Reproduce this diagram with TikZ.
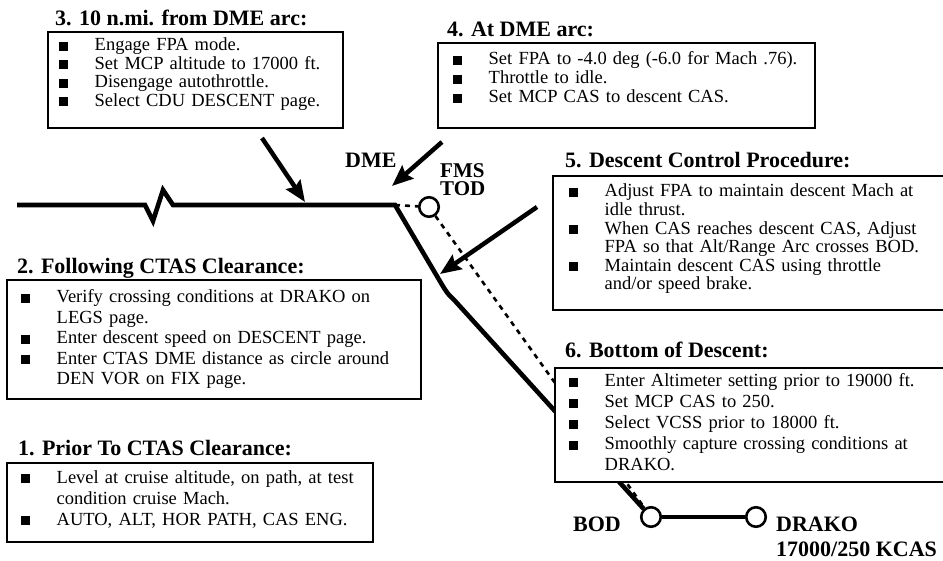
\documentclass[tikz,border=0pt]{standalone}
\usepackage{fontspec}
\setmainfont{Liberation Serif}
\usetikzlibrary{arrows.meta}

% one checklist entry: square bullet, hanging indent for wrapped lines
\newcommand\sqitem{\noindent\hangindent=36pt\hangafter=1\makebox[36pt][l]{\rule{9pt}{9pt}}\ignorespaces}

\begin{document}
\begin{tikzpicture}[x=1pt,y=-1pt,
  stepbox/.style={draw, line width=2.6pt, fill=white, inner sep=0pt, outer sep=0pt, anchor=north west},
  heading/.style={font=\fontsize{22}{22}\selectfont\bfseries, inner sep=0pt, anchor=base west},
  steptext/.style={font={\fontsize{18.5}{#1}\selectfont}, inner sep=0pt, anchor=base west, align=left, text width=390pt},
  route/.style={line width=4.6pt, line join=miter},
  dashline/.style={line width=2.6pt, dash pattern=on 5pt off 5pt},
  waypt/.style={circle, draw, line width=2.6pt, fill=white, minimum size=19.5pt, inner sep=0pt},
  callout/.style={line width=4.5pt, -{Stealth[length=21pt,width=17pt,inset=3pt]}},
  tag/.style={font=\fontsize{22}{22}\selectfont\bfseries, inner sep=0pt}]

\useasboundingbox (0,0) rectangle (943,561);
\fill[white] (0,0) rectangle (943,561);
\clip (0,0) rectangle (943,561);

% waypoints on the profile
\node[waypt] (fmstod) at (429,207) {};
\node[waypt] (bod) at (651,517) {};
\node[waypt] (drako) at (756,517) {};

\coordinate (cruiseL) at (17,205);
\coordinate (tod) at (395,205);

% cruise segment with break, then descent to BOD and level to DRAKO
\draw[route] (cruiseL) -- (145,205) -- (153,221) -- (163,190) -- (173,205) -- (tod)
  -- (441,283) .. controls (447,293) .. (456,302) -- (bod);
\draw[route] (bod) -- (drako);

% FMS planned top of descent and its path
\draw[dashline] (tod) -- (fmstod);
\draw[dashline] (fmstod) -- (bod);

% 3. 10 n.mi. from DME arc
\node[heading] (t3) at (55,26) {3. 10 n.mi. from DME arc:};
\node[stepbox, minimum width=295pt, minimum height=96pt] (b3) at (48,32) {};
\node[steptext=18.5] (l3) at (58.5,51) {\sqitem Engage FPA mode.\par
\sqitem Set MCP altitude to 17000 ft.\par
\sqitem Disengage autothrottle.\par
\sqitem Select CDU DESCENT page.\par};

% 4. At DME arc
\node[heading] (t4) at (447,37) {4. At DME arc:};
\node[stepbox, minimum width=377pt, minimum height=85pt] (b4) at (438,43) {};
\node[steptext=19] (l4) at (452.5,65) {\sqitem Set FPA to -4.0 deg (-6.0 for Mach .76).\par
\sqitem Throttle to idle.\par
\sqitem Set MCP CAS to descent CAS.\par};

% 5. Descent Control Procedure
\node[heading] (t5) at (565,168) {5. Descent Control Procedure:};
\node[stepbox, minimum width=400pt, minimum height=134pt] (b5) at (553,176) {};
\node[steptext=18.6] (l5) at (568.5,197) {\sqitem Adjust FPA to maintain descent Mach at\newline idle thrust.\par
\sqitem When CAS reaches descent CAS, Adjust\newline FPA so that Alt/Range Arc crosses BOD.\par
\sqitem Maintain descent CAS using throttle\newline and/or speed brake.\par};

% 2. Following CTAS Clearance
\node[heading] (t2) at (17,274) {2. Following CTAS Clearance:};
\node[stepbox, minimum width=414pt, minimum height=119pt] (b2) at (7,280) {};
\node[steptext=20.5] (l2) at (20.5,303) {\sqitem Verify crossing conditions at DRAKO on\newline LEGS page.\par
\sqitem Enter descent speed on DESCENT page.\par
\sqitem Enter CTAS DME distance as circle around\newline DEN VOR on FIX page.\par};

% 1. Prior To CTAS Clearance
\node[heading] (t1) at (18,455) {1. Prior To CTAS Clearance:};
\node[stepbox, minimum width=366pt, minimum height=79pt] (b1) at (7,463) {};
\node[steptext=21] (l1) at (20.5,483) {\sqitem Level at cruise altitude, on path, at test\newline condition cruise Mach.\par
\sqitem AUTO, ALT, HOR PATH, CAS ENG.\par};

% 6. Bottom of Descent
\node[heading] (t6) at (565,358) {6. Bottom of Descent:};
\node[stepbox, minimum width=398pt, minimum height=114pt] (b6) at (555,368) {};
\node[steptext=21] (l6) at (568.5,387) {\sqitem Enter Altimeter setting prior to 19000 ft.\par
\sqitem Set MCP CAS to 250.\par
\sqitem Select VCSS prior to 18000 ft.\par
\sqitem Smoothly capture crossing conditions at\newline DRAKO.\par};

% pointers to the profile
\coordinate (a3s) at (262,138);
\coordinate (a3e) at (305,202);
\coordinate (a4s) at (442,142);
\coordinate (a4e) at (392,186);
\coordinate (a5s) at (537,207);
\coordinate (a5e) at (440,274);
\draw[callout] (a3s) -- (a3e);
\draw[callout] (a4s) -- (a4e);
\draw[callout] (a5s) -- (a5e);

% profile labels
\node[tag, anchor=base west] (dme) at (345,168) {DME};
\node[tag, anchor=north west, align=left, font=\fontsize{21}{18}\selectfont\bfseries] (fmslbl) at (440,163) {FMS\\TOD};
\node[tag, anchor=base west] (bodlbl) at (573,531) {BOD};
\node[tag, anchor=north west, align=left, font=\fontsize{22}{25}\selectfont\bfseries] (drakolbl) at (776,516.5) {DRAKO\\17000/250 KCAS};

\end{tikzpicture}
\end{document}
